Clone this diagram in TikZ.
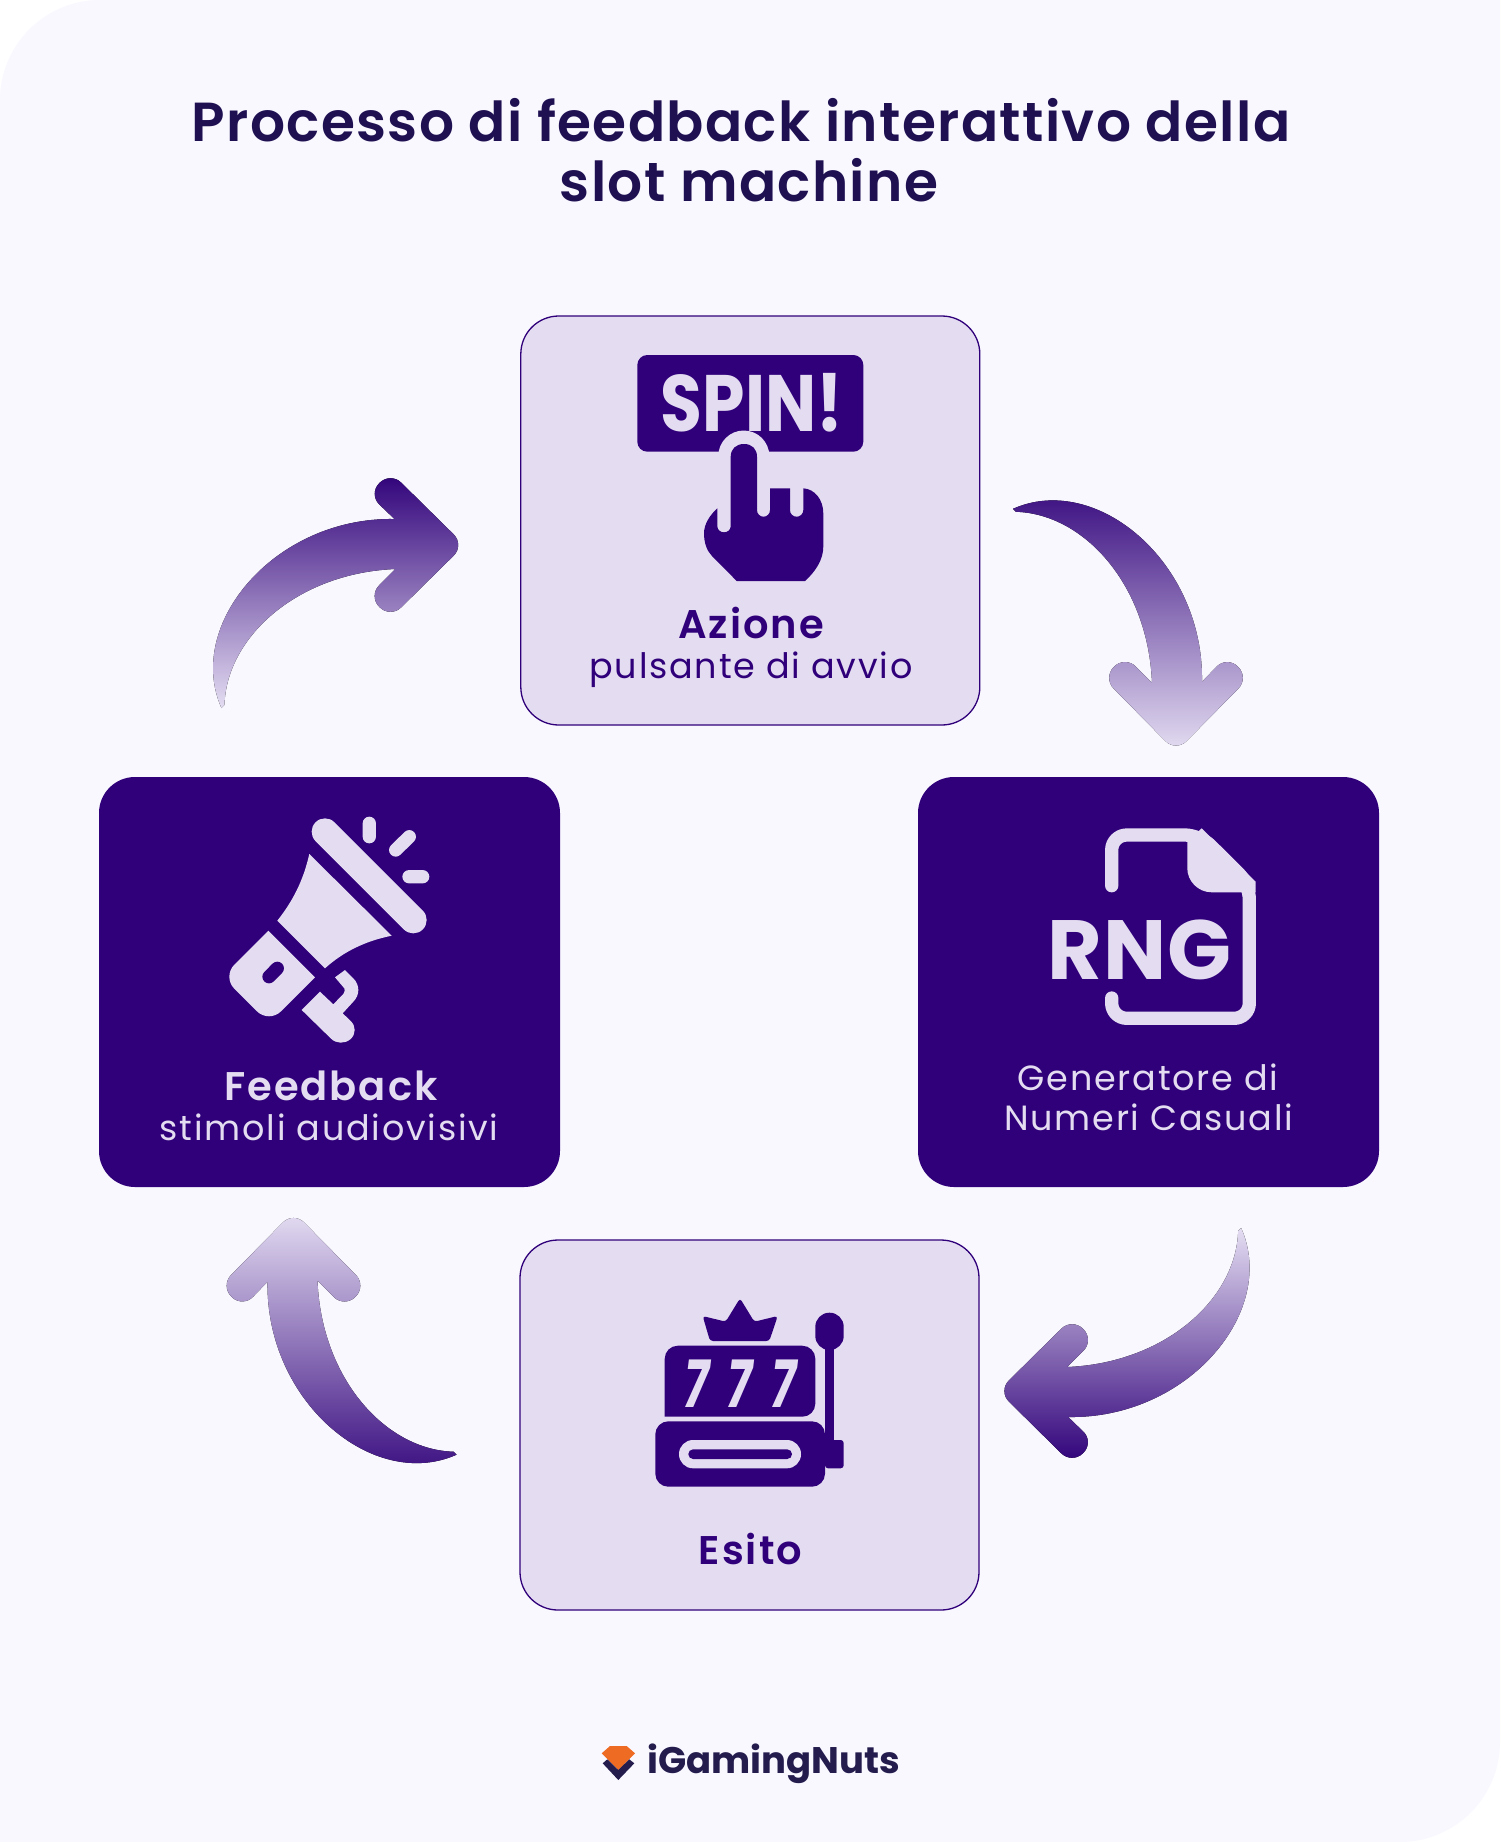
\documentclass[tikz,border=0pt]{standalone}
\usepackage{fontspec}
\setmainfont{Poppins}[BoldFont={Poppins SemiBold}]
\newfontfamily\heavyfont{Poppins}[BoldFont={Poppins Bold}]
\usetikzlibrary{calc,positioning}

\definecolor{inkviolet}{HTML}{2F0079}
\definecolor{paleviolet}{HTML}{E4DDF2}
\definecolor{pagetint}{HTML}{F9F8FF}
\definecolor{titleink}{HTML}{1F1052}
\definecolor{logoink}{HTML}{231C4D}
\definecolor{logoorange}{HTML}{EE6B24}

\newcommand{\swoop}[4]{
\fill[shift={(#1)}, rotate=#2, top color=#3, bottom color=#4]
  (-163,-221) .. controls (-80,-258) and (28,-168) .. (26,-48)
  [rounded corners=15pt] -- (51,-74) -- (73,-52) -- (0,22) -- (-73,-52) -- (-51,-74) [sharp corners]
  -- (-24,-47) .. controls (-28,-145) and (-92,-216) .. (-160,-218) -- cycle;
}

\begin{document}
\begin{tikzpicture}[x=1pt, y=-1pt,
lightbox/.style={draw=inkviolet, fill=paleviolet, line width=1.3pt, rounded corners=38pt, minimum width=459pt, minimum height=409pt},
darkbox/.style={fill=inkviolet, rounded corners=36pt, minimum width=461pt, minimum height=410pt},
headline/.style={anchor=base, text=titleink, font=\fontsize{55}{55}\selectfont\bfseries\addfontfeatures{LetterSpace=2.5}},
boxhead/.style={anchor=base, font=\fontsize{40}{40}\selectfont\bfseries\addfontfeatures{LetterSpace=5}},
boxtext/.style={anchor=base, font=\fontsize{35}{35}\selectfont\addfontfeatures{LetterSpace=5}},
thickround/.style={line cap=round, line join=round}
]
\useasboundingbox (0,0) rectangle (1500,1842);
\fill[white] (0,0) rectangle (1500,1842);
\fill[pagetint] (100,0) -- (1500,0) -- (1500,1742) .. controls (1500,1797) and (1455,1842) .. (1400,1842)
  -- (0,1842) -- (0,100) .. controls (0,45) and (45,0) .. (100,0) -- cycle;

\node[headline] (titleone) at (741,141.7) {Processo di feedback interattivo della};
\node[headline] (titletwo) at (749,201.7) {slot machine};

% boxes
\node[lightbox] (azione) at (750.3,520.5) {};
\node[darkbox] (rng) at (1148.5,982) {};
\node[darkbox] (feedback) at (329.5,982) {};
\node[lightbox, minimum height=370pt] (esito) at (749.5,1425) {};

% arrows
\coordinate (tiprng) at ($(rng.north)+(27.5,-47)$);
\coordinate (tipesito) at ($(esito.east)+(40.5,-34)$);
\coordinate (tipfeedback) at ($(feedback.south)+(-36,46.5)$);
\coordinate (tipazione) at ($(azione.west)+(-77.7,24.5)$);
\swoop{tiprng}{0}{inkviolet}{paleviolet}
\swoop{tipesito}{-90}{paleviolet}{inkviolet}
\swoop{tipfeedback}{180}{paleviolet}{inkviolet}
\swoop{tipazione}{90}{inkviolet}{paleviolet}

% spin button and hand
\fill[inkviolet, rounded corners=10pt] (637.3,355) rectangle (863.3,451.7);
\node[anchor=base, xscale=.85, text=paleviolet, font=\heavyfont\fontsize{80}{80}\selectfont\bfseries] (spin) at (752,431.5) {SPIN!};
\fill[paleviolet] (718.3,456) arc[start angle=180, end angle=0, radius=25.5pt] -- cycle;
\fill[inkviolet] (730.7,456.7) .. controls (730.7,449) and (736,444) .. (744,444) .. controls (752,444) and (757,449) .. (757,456.7)
  -- (757,510) .. controls (757,514) and (760,516.7) .. (763.5,516.7) .. controls (767,516.7) and (770,514) .. (770,510)
  -- (770,488.3) -- (790,488.3) -- (790,510) .. controls (790,514) and (793,516.7) .. (796.7,516.7) .. controls (800,516.7) and (803.3,514) .. (803.3,510)
  -- (803.3,488.3) .. controls (815,489) and (823.3,500) .. (823.3,513.3) -- (823.3,546.7) .. controls (823.3,560) and (815,572) .. (805,581)
  -- (736.7,581) -- (712,556) .. controls (707,551) and (704,543) .. (704,533.3) .. controls (704,524) and (710,515) .. (717.3,508.3)
  -- (717.3,526) .. controls (717.3,530) and (720.5,532.3) .. (724,532.3) .. controls (727.5,532.3) and (730.7,530) .. (730.7,526) -- cycle;
\node[boxhead, text=inkviolet] (azionehead) at (751,638.3) {Azione};
\node[boxtext, text=inkviolet] (azionetext) at (751,678.3) {pulsante di avvio};

% megaphone
\draw[paleviolet, thickround, line width=26.7pt] (325,831.7) -- (413.3,920);
\draw[paleviolet, thickround, line width=13.3pt] (369.3,823.3) -- (369.3,836.7) (395.7,850) -- (409.3,836.7) (409,876.7) -- (422.7,876.7);
\fill[paleviolet] (309.3,854) .. controls (303,882) and (292,902) .. (277.3,920.7) -- (325,968.3) .. controls (343,952) and (365,941) .. (391.7,935.7) -- cycle;
\fill[paleviolet] (268.3,930.7) -- (315,977.3) [rounded corners=17pt] -- (269,1023.3) -- (222.3,976.7) [sharp corners] -- cycle;
\draw[inkviolet, thickround, line width=13.3pt] (269,976.7) -- (277.3,968.3);
\fill[paleviolet] (335,977.3) -- (345,970) -- (353.3,978.3) .. controls (360,985) and (360,995) .. (353.3,1001.7) -- (342.7,1013.3) -- (350.7,1021)
  .. controls (356,1026) and (356,1034) .. (350.7,1039) .. controls (345,1044) and (336,1044) .. (330.7,1038.3) -- (301.7,1010) -- (320,991.7) -- (333.3,1004.3) -- (343.3,994) .. controls (345,991) and (345,989) .. (344.3,988.3) -- cycle;
\node[boxhead, text=paleviolet] (feedbackhead) at (330.8,1100) {Feedback};
\node[boxtext, text=paleviolet] (feedbacktext) at (329.2,1140.7) {stimoli audiovisivi};

% document with rng
\draw[paleviolet, thickround, line width=13.3pt, rounded corners=15pt] (1111.7,885.7) -- (1111.7,835) -- (1200,835) -- (1249.3,884) -- (1249.3,1018.3) -- (1111.7,1018.3) -- (1111.7,998);
\fill[paleviolet] (1187.3,841.7) -- (1201.7,828.3) -- (1255.7,881.7) -- (1255.7,892.3) -- (1211.7,892.3) .. controls (1198,892.3) and (1187.3,881) .. (1187.3,868.3) -- cycle;
\node[anchor=base, text=paleviolet, font=\heavyfont\fontsize{84}{84}\selectfont\bfseries\addfontfeatures{LetterSpace=1}] (rngmark) at (1139.5,979.3) {RNG};
\node[boxtext, text=paleviolet] (rngone) at (1148,1090.7) {Generatore di};
\node[boxtext, text=paleviolet] (rngtwo) at (1148.8,1130.7) {Numeri Casuali};

% slot machine
\fill[inkviolet, rounded corners=3pt] (710,1341) -- (769.3,1341) -- (777.7,1316) -- (754.3,1321.7) -- (740,1298.3) -- (725.7,1321.7) -- (702.7,1316) -- cycle;
\fill[inkviolet, rounded corners=13pt] (664.7,1345.7) -- (815.3,1345.7) -- (815.3,1416.7) [sharp corners] -- (664.7,1416.7) [rounded corners=13pt] -- cycle;
\node[anchor=base, xscale=.7, text=paleviolet, font=\heavyfont\fontsize{66}{66}\selectfont\bfseries\itshape] (sevens) at (740,1407) {7\hspace{27pt}7\hspace{27pt}7};
\fill[inkviolet, rounded corners=13pt] (655.3,1421.3) rectangle (825,1486.7);
\fill[paleviolet, rounded corners=14pt] (679,1440) rectangle (801,1468.3);
\fill[inkviolet, rounded corners=4.8pt] (688.3,1449.3) rectangle (792,1459);
\fill[inkviolet] (825,1345) rectangle (834,1445);
\fill[inkviolet, rounded corners=14pt] (815.3,1312.7) rectangle (843.7,1350);
\fill[inkviolet, rounded corners=3pt] (825,1440) rectangle (843.7,1468.3);
\node[boxhead, text=inkviolet] (esitohead) at (750.5,1564) {Esito};

% logo
\fill[logoorange] (601.7,1753.3) -- (610,1746) -- (626.7,1746) -- (635,1753.3) -- (618.3,1770) -- cycle;
\fill[logoink] (602.7,1763.3) -- (618.3,1780) -- (634.3,1763.3) -- (629.3,1759.3) -- (618.3,1770) -- (607.3,1759.3) -- cycle;
\node[anchor=base, text=logoink, font=\heavyfont\fontsize{37}{37}\selectfont\bfseries] (logotext) at (773.8,1773.3) {iGamingNuts};
\end{tikzpicture}
\end{document}
